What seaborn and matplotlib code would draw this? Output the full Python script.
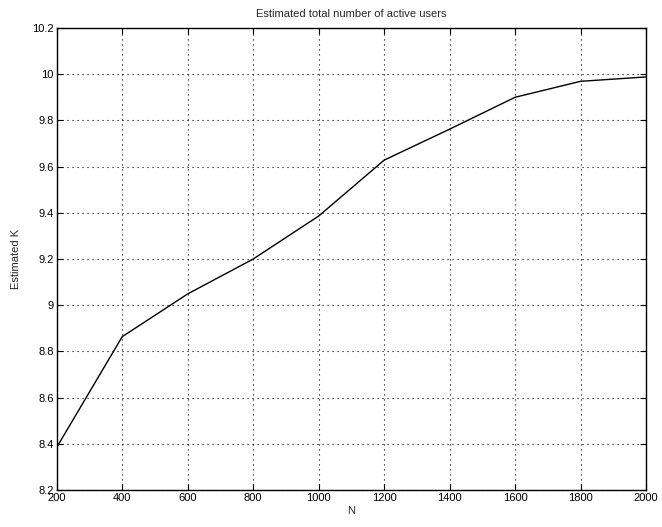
import matplotlib
matplotlib.use("Agg")
import matplotlib.pyplot as plt
import seaborn as sns
import pandas as pd

N_values = [200, 400, 600, 800, 1000, 1200, 1400, 1600, 1800, 2000]
K_estimated = [8.385, 8.864, 9.049, 9.2, 9.386, 9.628, 9.762, 9.9, 9.969, 9.988]
x_ticks = [200, 400, 600, 800, 1000, 1200, 1400, 1600, 1800, 2000]
y_ticks = [8.2, 8.4, 8.6, 8.8, 9, 9.2, 9.4, 9.6, 9.8, 10, 10.2]
y_tick_labels = ["8.2", "8.4", "8.6", "8.8", "9", "9.2", "9.4", "9.6", "9.8", "10", "10.2"]

sns.set_style("white")
plt.rcParams['font.family'] = ['Liberation Sans', 'DejaVu Sans']

df = pd.DataFrame({"N": N_values, "K": K_estimated})

fig = plt.figure(figsize=(6.62, 5.27), dpi=100)
ax = fig.add_axes([0.0857, 0.070, 0.976 - 0.0857, 0.947 - 0.070])

sns.lineplot(data=df, x="N", y="K", ax=ax, color="black", linewidth=1.0)

ax.set_xlim(200, 2000)
ax.set_ylim(8.2, 10.2)
ax.set_xticks(x_ticks)
ax.set_xticklabels([str(t) for t in x_ticks])
ax.set_yticks(y_ticks)
ax.set_yticklabels(y_tick_labels)

ax.grid(True, linestyle=(0, (1, 3.5)), color="black", linewidth=0.8)
for s in ax.spines.values():
    s.set_color("black")
    s.set_linewidth(1.0)
    s.set_visible(True)

ax.tick_params(axis="both", which="both", direction="in", length=4, width=0.8,
               top=True, right=True, bottom=True, left=True, labelsize=8,
               colors="black", pad=2)

ax.set_xlabel("N", fontsize=8, labelpad=2)
ax.set_ylabel("Estimated K", fontsize=8, labelpad=8)
ax.set_title("Estimated total number of active users", fontsize=8, pad=8)

fig.savefig("out.png", dpi=100)
